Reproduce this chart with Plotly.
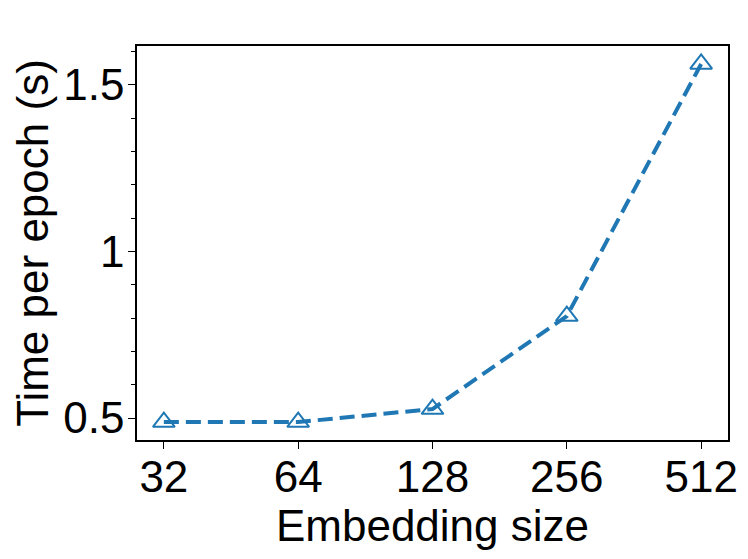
import plotly.graph_objects as go

# embedding sizes and measured time per epoch
embedding_sizes = ["32", "64", "128", "256", "512"]
time_per_epoch = [0.488, 0.488, 0.527, 0.806, 1.563]

y_tickvals = [0.5, 1.0, 1.5]
y_ticktext = ["0.5", "1", "1.5"]

fig = go.Figure()
fig.add_trace(go.Scatter(
    x=embedding_sizes, y=time_per_epoch,
    mode="lines+markers",
    line=dict(color="#1f77b4", width=4, dash="15px,7px"),
    marker=dict(symbol="triangle-up-open", size=19, color="#1f77b4",
                line=dict(width=2, color="#1f77b4")),
    showlegend=False,
))

font = "Liberation Sans, Arial, sans-serif"
fig.update_layout(
    width=748, height=559,
    # page body has an 8px margin, so shift everything up/left
    margin=dict(l=129, r=28, t=38, b=127),
    plot_bgcolor="white", paper_bgcolor="white",
    font=dict(family=font, size=44, color="black"),
)
fig.update_xaxes(
    type="category", range=[-0.2, 4.2], automargin=False,
    showline=True, linecolor="black", linewidth=1.5, mirror=True,
    ticks="outside", ticklen=7, tickcolor="black", ticklabelstandoff=-10,
    showgrid=False, zeroline=False,
    title=dict(text="Embedding size", standoff=2, font=dict(size=44)),
)
fig.update_yaxes(
    range=[0.434, 1.617], automargin=False,
    tickvals=y_tickvals, ticktext=y_ticktext,
    showline=True, linecolor="black", linewidth=1.5, mirror=True,
    ticks="outside", ticklen=7, tickcolor="black", ticklabelstandoff=-5,
    minor=dict(dtick=0.1, tick0=0.5, ticks="outside", ticklen=4, tickcolor="black"),
    showgrid=False, zeroline=False,
    title=dict(text="Time per epoch (s)", standoff=4, font=dict(size=44)),
)

fig.write_html("out.html")
